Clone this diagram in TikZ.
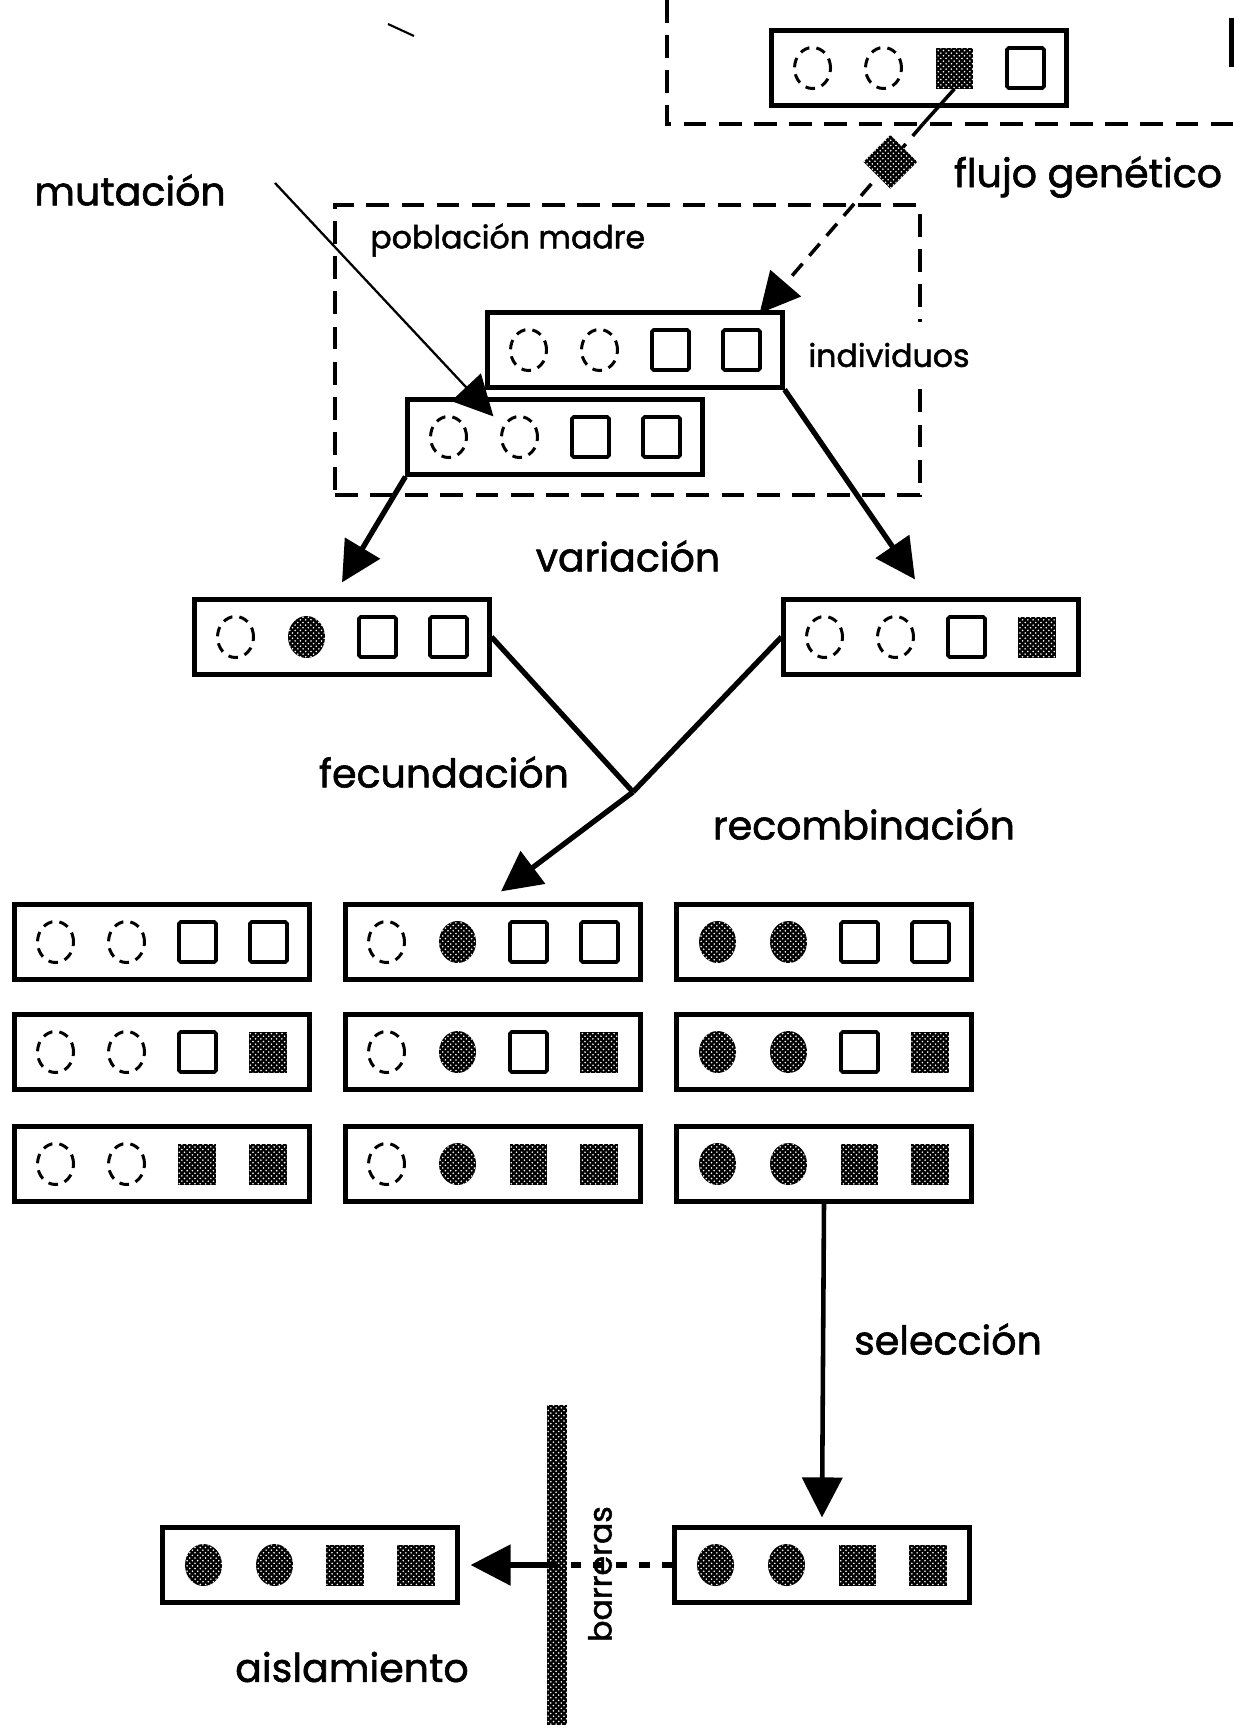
\documentclass[tikz,border=0pt]{standalone}
\usepackage{fontspec}
\setmainfont{Poppins}
\newfontfamily\heavy{Poppins}[FakeBold=1.5]
\usetikzlibrary{arrows.meta,calc,shapes.geometric,patterns}

% one population: a box with four gene symbols
\newcommand\poblacion[3]{%
  \node[indiv] (#1) at (#2) {};
  \foreach \g [count=\k] in {#3}
    \node[\g, xshift={(\k-2.5)*1.42cm}] (#1-\k) at (#1) {};
}

\begin{document}
\begin{tikzpicture}[
  x=0.02cm, y=-0.02cm,
  >={Triangle[length=.8cm, width=.8cm]},
  indiv/.style={draw, line width=2.4pt, minimum width=5.9cm, minimum height=1.5cm, inner sep=0pt},
  empcirc/.style={ellipse, draw, dash pattern=on 5.5pt off 4pt, line width=1.7pt, minimum width=.72cm, minimum height=.82cm, inner sep=0pt},
  fullcirc/.style={ellipse, fill=black, minimum width=.74cm, minimum height=.84cm, inner sep=0pt, postaction={pattern=crosshatch dots, pattern color=white}},
  empsq/.style={draw, line width=2.1pt, rounded corners=1pt, minimum width=.74cm, minimum height=.8cm, inner sep=0pt},
  fullsq/.style={fill=black, minimum width=.76cm, minimum height=.82cm, inner sep=0pt, postaction={pattern=crosshatch dots, pattern color=white}},
  frame/.style={dash pattern=on 13pt off 7pt, line width=2pt},
  link/.style={line width=3pt},
  push/.style={link, ->},
  mutline/.style={line width=1.3pt, ->},
  flow/.style={->, line width=2pt, dash pattern=on 9pt off 6pt},
  lab/.style={font=\heavy\fontsize{22.5}{27}\selectfont, inner sep=0pt},
  small/.style={font=\heavy\fontsize{18}{22}\selectfont, inner sep=0pt},
]
\useasboundingbox (0,0) rectangle (1234,1732);

% ---- stray marks of the original
\draw[line width=1.2pt] (388,24) -- (414,36);
\fill (1229,18) rectangle (1234,67);

% ---- donor population and gene flow
\draw[frame] (667,0) -- (667,124) -- (1234,124);
\poblacion{donor}{919,68}{empcirc,empcirc,fullsq,empsq}
\node[lab] at (1088,177) {flujo genético};

% ---- mother population
\node[frame, draw, minimum width=11.7cm, minimum height=5.8cm] (madre) at (627.5,350) {};
\node[small, anchor=west] at (370,240) {población madre};
\node[small, fill=white, inner xsep=2pt, inner ysep=12pt] at (889,355) {individuos};
\poblacion{madreA}{635,350}{empcirc,empcirc,empsq,empsq}
\poblacion{madreB}{555,437}{empcirc,empcirc,empsq,empsq}

\coordinate (gate) at (923,124);
\coordinate (tipA) at ($(madreA.north east)+(-25,3)$);
\draw[line width=2pt] (donor-3.south) -- (gate);
\draw[flow] (gate) -- (tipA);
\node[fullsq, rotate=45, minimum width=.76cm, minimum height=.76cm] (migrant) at ($(gate)!0.2!(tipA)$) {};

% ---- mutation
\node[lab] at (130,190) {mutación};
\coordinate (mutstart) at (275,183);
\draw[mutline] (mutstart) -- ($(madreB.north west)+(88,19)$);

% ---- variation
\poblacion{varL}{342,637}{empcirc,fullcirc,empsq,empsq}
\poblacion{varR}{931,637}{empcirc,empcirc,empsq,fullsq}
\node[lab] at (628,556) {variación};
\draw[push] (madreB.south west) -- ($(varL.north)+(0,-15)$);
\draw[push] (madreA.south east) -- ($(varR.north)+(-16,-18)$);

% ---- fertilisation and recombination
\poblacion{f11}{162,942}{empcirc,empcirc,empsq,empsq}
\poblacion{f12}{493,942}{empcirc,fullcirc,empsq,empsq}
\poblacion{f13}{824,942}{fullcirc,fullcirc,empsq,empsq}
\poblacion{f21}{162,1052}{empcirc,empcirc,empsq,fullsq}
\poblacion{f22}{493,1052}{empcirc,fullcirc,empsq,fullsq}
\poblacion{f23}{824,1052}{fullcirc,fullcirc,empsq,fullsq}
\poblacion{f31}{162,1164}{empcirc,empcirc,fullsq,fullsq}
\poblacion{f32}{493,1164}{empcirc,fullcirc,fullsq,fullsq}
\poblacion{f33}{824,1164}{fullcirc,fullcirc,fullsq,fullsq}

\coordinate (zyg) at (633,792);
\draw[link] (varL.east) -- (zyg);
\draw[link] (varR.west) -- (zyg);
\draw[push] (zyg) -- ($(f12.north)+(8,-11)$);
\node[lab] at (444,772) {fecundación};
\node[lab] at (864,824) {recombinación};

% ---- selection
\poblacion{sel}{822,1565}{fullcirc,fullcirc,fullsq,fullsq}
\draw[->, line width=2.6pt] (f33.south) -- ($(sel.north)+(0,-8)$);
\node[lab] at (948,1339) {selección};

% ---- isolation behind the barrier
\poblacion{iso}{310,1565}{fullcirc,fullcirc,fullsq,fullsq}
\node[fill=black, minimum width=.4cm, minimum height=6.4cm, inner sep=0pt,
      postaction={pattern=crosshatch dots, pattern color=white}] (barrier) at (557,1565) {};
\draw[line width=3pt, dash pattern=on 6pt off 7pt] (sel.west) -- (barrier.center);
\draw[push] (barrier.center) -- ($(iso.east)+(11,0)$);
\node[small, rotate=90] at (600,1574) {barreras};
\node[lab] at (352,1667) {aislamiento};
\end{tikzpicture}
\end{document}
